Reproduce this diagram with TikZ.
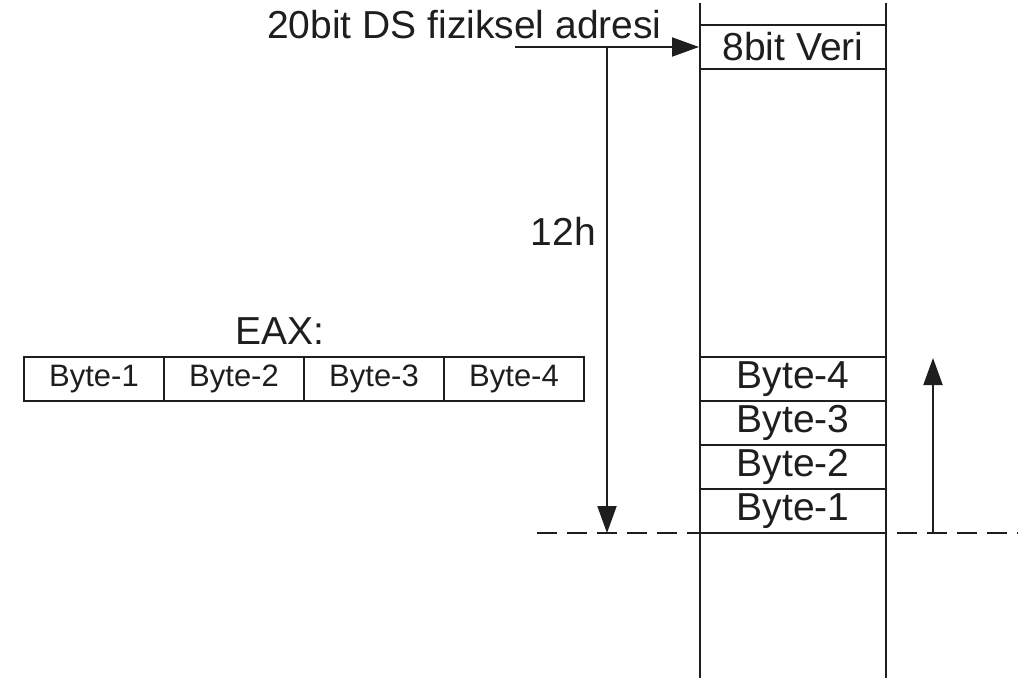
\documentclass[tikz,border=0pt]{standalone}
\usepackage{fontspec}
\setmainfont{Liberation Sans}
\usetikzlibrary{arrows.meta}
\definecolor{ink}{HTML}{1E1E1E}
\tikzset{
  ln/.style={draw=ink, line width=2pt},
  big/.style={font=\fontsize{39}{44}\selectfont, text=ink, inner sep=0pt},
  small/.style={font=\fontsize{31}{36}\selectfont, text=ink, inner sep=0pt},
  memcell/.style={ln, rectangle, minimum width=186pt, minimum height=44pt, big, inner sep=0pt},
  regcell/.style={ln, rectangle, minimum width=140pt, minimum height=44pt, small, inner sep=0pt},
  arr/.style={ln, -{Triangle[length=27pt,width=19pt]}},
}
\begin{document}
\begin{tikzpicture}[x=1pt,y=-1pt]
\useasboundingbox (0,0) rectangle (1035,678);
% memory column
\coordinate (cTL) at (700,3);
\coordinate (cBL) at (700,678);
\coordinate (cTR) at (886,3);
\coordinate (cBR) at (886,678);
\draw[ln] (cTL) -- (cBL);
\draw[ln] (cTR) -- (cBR);
\node[memcell] (veri) at (793,47) {8bit Veri};
\node[memcell] (m4) at (793,379) {Byte-4};
\node[memcell] (m3) at (793,423) {Byte-3};
\node[memcell] (m2) at (793,467) {Byte-2};
\node[memcell] (m1) at (793,511) {Byte-1};
% EAX register
\node[regcell] (r1) at (94,379) {Byte-1};
\node[regcell] (r2) at (234,379) {Byte-2};
\node[regcell] (r3) at (374,379) {Byte-3};
\node[regcell] (r4) at (514,379) {Byte-4};
\node[big, anchor=base] (eax) at (280,344) {EAX:};
% labels
\node[big, anchor=base west] (addr) at (267,38) {20bit DS fiziksel adresi};
\node[big, anchor=base east] (off) at (596,245) {12h};
% arrows
\coordinate (aStart) at (515,47);
\coordinate (aKnee) at (607,47);
\coordinate (aEnd) at (607,533);
\draw[arr] (aStart) -- (veri.west);
\draw[arr] (aKnee) -- (aEnd);
\coordinate (uStart) at (933,533);
\coordinate (uEnd) at (933,358);
\draw[arr] (uStart) -- (uEnd);
% dashed base line
\coordinate (dL) at (537,533);
\coordinate (dR) at (1018,533);
\draw[ln, dash pattern=on 20pt off 10pt] (dL) -- (dR);
\end{tikzpicture}
\end{document}
